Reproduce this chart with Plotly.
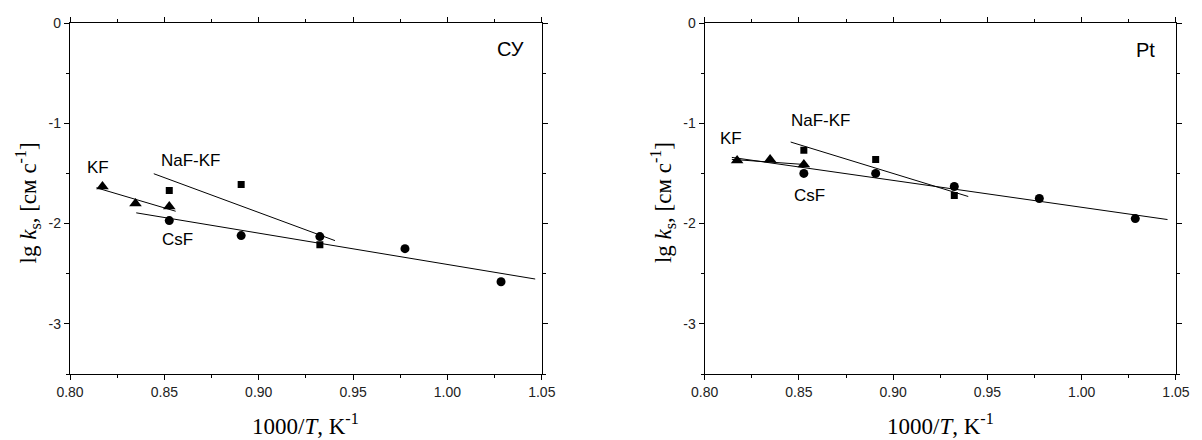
import plotly.graph_objects as go

# Inverse temperature, 1000/T (K^-1)
x_kf = [0.8172, 0.8347, 0.8526]
x_nafkf = [0.8526, 0.8907, 0.9324]
x_csf = [0.8526, 0.8907, 0.9324, 0.9775, 1.0284]

# lg k_s on glassy carbon (СУ)
cy_kf = [-1.63, -1.80, -1.83]
cy_nafkf = [-1.67, -1.61, -2.21]
cy_csf = [-1.97, -2.12, -2.13, -2.25, -2.58]

# lg k_s on platinum (Pt)
pt_kf = [-1.37, -1.36, -1.41]
pt_nafkf = [-1.27, -1.36, -1.72]
pt_csf = [-1.50, -1.50, -1.63, -1.75, -1.95]

# Linear fits (end points)
cy_fit_kf_x, cy_fit_kf_y = [0.814, 0.856], [-1.643, -1.877]
cy_fit_nafkf_x, cy_fit_nafkf_y = [0.8444, 0.9404], [-1.503, -2.17]
cy_fit_csf_x, cy_fit_csf_y = [0.8351, 1.0465], [-1.893, -2.553]
pt_fit_kf_x, pt_fit_kf_y = [0.8144, 0.8544], [-1.36, -1.413]
pt_fit_nafkf_x, pt_fit_nafkf_y = [0.8456, 0.9398], [-1.187, -1.73]
pt_fit_csf_x, pt_fit_csf_y = [0.8144, 1.0455], [-1.34, -1.96]

y_tickvals = [0, -1, -2, -3]
y_ticktext = ["0", "-1", "-2", "-3"]
x_tickvals = [0.80, 0.85, 0.90, 0.95, 1.00, 1.05]
x_ticktext = ["0.80", "0.85", "0.90", "0.95", "1.00", "1.05"]

SANS = "Liberation Sans, Arial, sans-serif"
SERIF = "Liberation Serif, Times New Roman, serif"

fig = go.Figure()


def add_panel(xa, ya, kf, nafkf, csf, fits):
    common = dict(xaxis=xa, yaxis=ya, showlegend=False, hoverinfo="skip")
    for fx, fy in fits:
        fig.add_trace(go.Scatter(x=fx, y=fy, mode="lines",
                                 line=dict(color="black", width=1), **common))
    fig.add_trace(go.Scatter(x=x_kf, y=kf, mode="markers",
                             marker=dict(symbol="triangle-up", size=11, color="black"), **common))
    fig.add_trace(go.Scatter(x=x_nafkf, y=nafkf, mode="markers",
                             marker=dict(symbol="square", size=7, color="black"), **common))
    fig.add_trace(go.Scatter(x=x_csf, y=csf, mode="markers",
                             marker=dict(symbol="circle", size=9, color="black"), **common))


add_panel("x", "y", cy_kf, cy_nafkf, cy_csf,
          [(cy_fit_kf_x, cy_fit_kf_y), (cy_fit_nafkf_x, cy_fit_nafkf_y), (cy_fit_csf_x, cy_fit_csf_y)])
add_panel("x2", "y2", pt_kf, pt_nafkf, pt_csf,
          [(pt_fit_kf_x, pt_fit_kf_y), (pt_fit_nafkf_x, pt_fit_nafkf_y), (pt_fit_csf_x, pt_fit_csf_y)])

axis_style = dict(showline=True, linecolor="black", linewidth=1.3, mirror="ticks",
                  ticks="outside", ticklen=5, tickwidth=1, tickcolor="black",
                  showgrid=False, zeroline=False,
                  tickfont=dict(family=SANS, size=14, color="#222"))

xaxis_common = dict(axis_style, range=[0.80, 1.05], tickmode="array",
                    tickvals=x_tickvals, ticktext=x_ticktext,
                    minor=dict(dtick=0.025, tick0=0.8, ticks="outside", ticklen=3,
                               tickcolor="black", showgrid=False))
yaxis_common = dict(axis_style, range=[-3.5, 0], tickmode="array",
                    tickvals=y_tickvals, ticktext=y_ticktext,
                    minor=dict(dtick=0.5, tick0=0, ticks="outside", ticklen=3,
                               tickcolor="black", showgrid=False))

W, H = 1202, 440
ML, MR, MT, MB = 70, 15, 23, 66
plot_w = W - ML - MR
plot_h = H - MT - MB


def px_to_paper_x(px):
    return (px - ML) / plot_w


def px_to_paper_y(py):
    return (H - MB - py) / plot_h


fig.update_layout(
    width=W, height=H,
    margin=dict(l=ML, r=MR, t=MT, b=MB),
    paper_bgcolor="white", plot_bgcolor="white",
    xaxis=dict(xaxis_common, domain=[0, px_to_paper_x(546.5)], anchor="y"),
    yaxis=dict(yaxis_common, domain=[0, 1], anchor="x"),
    xaxis2=dict(xaxis_common, domain=[px_to_paper_x(711), 1], anchor="y2"),
    yaxis2=dict(yaxis_common, domain=[0, 1], anchor="x2"),
)

ann = []
label_font = dict(family=SANS, size=17, color="black")
panel_font = dict(family=SANS, size=20, color="black")

for xr, yr, items in [
    ("x", "y", [("KF", 0.8147, -1.44, label_font), ("NaF-KF", 0.8642, -1.37, label_font),
                ("CsF", 0.8568, -2.16, label_font), ("СУ", 1.0332, -0.26, panel_font)]),
    ("x2", "y2", [("KF", 0.8142, -1.15, label_font), ("NaF-KF", 0.8616, -0.97, label_font),
                  ("CsF", 0.8558, -1.72, label_font), ("Pt", 1.0337, -0.27, panel_font)]),
]:
    for text, ax_x, ax_y, font in items:
        ann.append(dict(text=text, x=ax_x, y=ax_y, xref=xr, yref=yr, showarrow=False,
                        xanchor="center", yanchor="middle", font=font))

title_font = dict(family=SERIF, size=23, color="black")
xtitle = "1000/<i>T</i>, K<sup>-1</sup>"
ytitle = "lg <i>k</i><sub>s</sub>, [см с<sup>-1</sup>]"

for cx in (308, 949):
    ann.append(dict(text=xtitle, x=px_to_paper_x(cx), y=px_to_paper_y(424), xref="paper", yref="paper",
                    showarrow=False, xanchor="center", yanchor="middle", font=title_font))
for cx in (28, 669):
    ann.append(dict(text=ytitle, x=px_to_paper_x(cx), y=px_to_paper_y(203), xref="paper", yref="paper",
                    showarrow=False, xanchor="center", yanchor="middle", textangle=-90, font=title_font))

fig.update_layout(annotations=ann)

fig.write_html("out.html")
